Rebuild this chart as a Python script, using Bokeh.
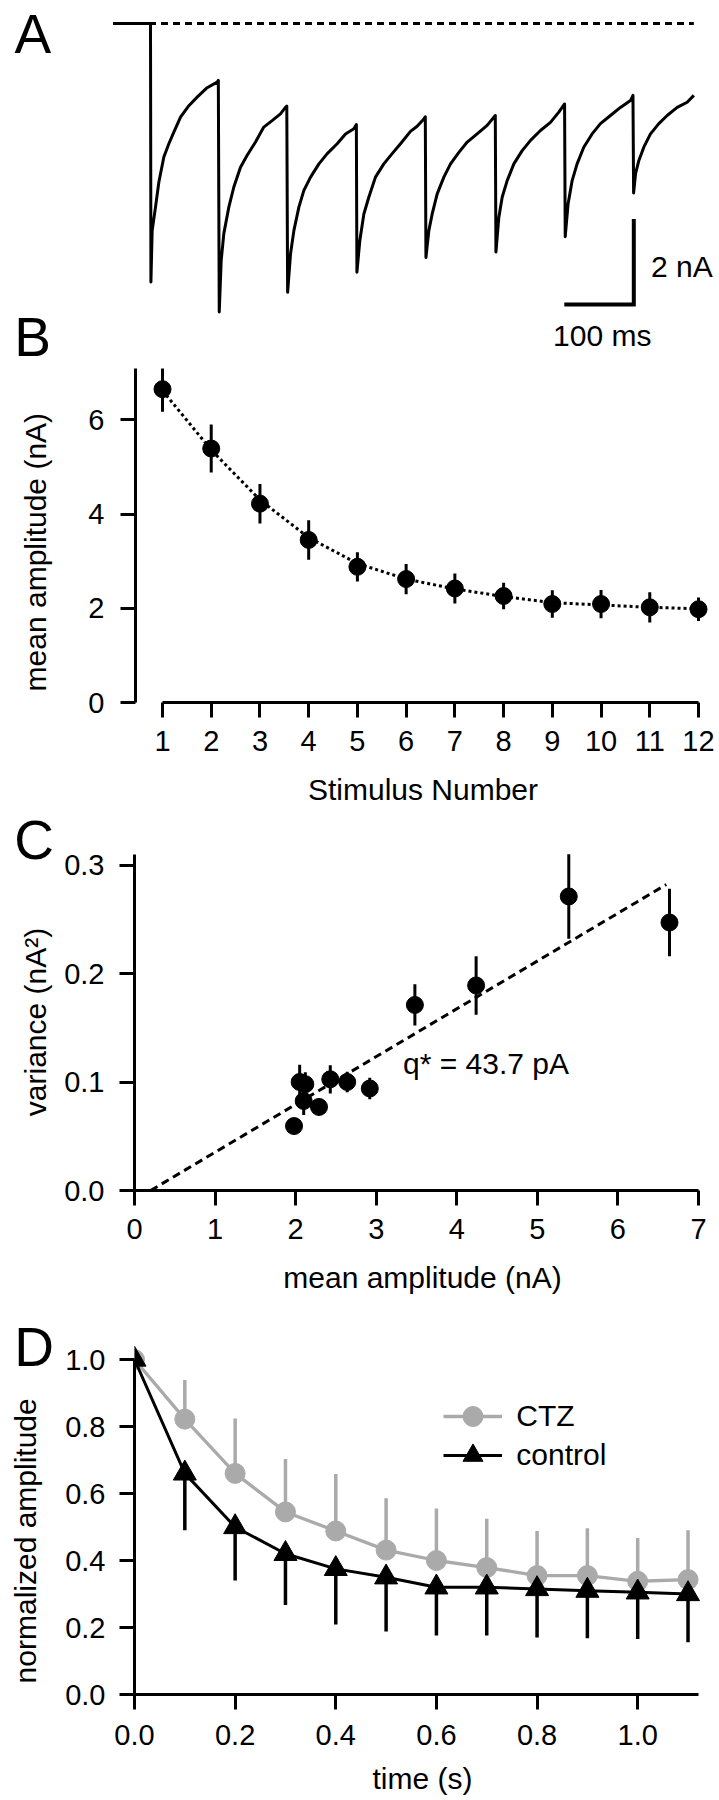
from bokeh.plotting import figure
from bokeh.layouts import column
from bokeh.models import FixedTicker, Label, Legend, LegendItem, PrintfTickFormatter, Title
from bokeh.core.properties import value
from bokeh.embed import file_html
from bokeh.resources import INLINE

FONT = "Liberation Sans"
GRAY = "#aaaaaa"
TICK_FS = "29px"
LABEL_PX = 30
LETTER_PX = 55
MID = 0.3465  # distance (in em) from the font-box middle down to the alphabetic baseline
NBSP = "\u00a0"

# ---------------- Panel A: example trace (ms, nA) ----------------
stim_times_ms = [0.0, 98.3, 196.7, 296.4, 395.7, 496.4, 596.1, 694.5]
peak_current_na = [-6.04, -6.74, -6.28, -5.81, -5.47, -5.34, -4.98, -3.96]
recovery_dt_ms = [
    [2.4, 7.2, 12.0, 19.2, 26.4, 33.6, 43.2, 55.2, 67.1, 81.5, 95.9, 97.6],
    [3.4, 7.2, 14.4, 21.6, 31.2, 40.8, 52.8, 64.7, 76.7, 88.7, 95.9, 97.8],
    [4.8, 9.6, 16.8, 24.0, 33.6, 45.6, 57.6, 71.9, 83.9, 95.9, 99.5],
    [4.8, 10.6, 17.7, 27.3, 39.3, 51.3, 63.3, 77.7, 87.3, 96.9, 99.0],
    [4.8, 9.6, 16.8, 26.4, 36.0, 48.0, 60.0, 74.3, 88.7, 100.4],
    [4.8, 9.6, 16.8, 26.4, 38.4, 50.4, 64.7, 79.1, 91.1, 99.4],
    [4.8, 10.6, 17.7, 27.3, 39.3, 51.3, 65.7, 80.1, 94.5, 98.1],
    [3.4, 8.2, 15.3, 24.9, 36.9, 48.9, 63.3, 77.7, 87.3],
]
recovery_current_na = [
    [-4.84, -4.29, -3.71, -3.12, -2.81, -2.54, -2.19, -1.92, -1.72, -1.50, -1.37, -1.33],
    [-5.54, -4.91, -4.29, -3.82, -3.36, -3.08, -2.77, -2.42, -2.27, -2.11, -1.96, -1.93],
    [-5.38, -4.84, -4.29, -3.90, -3.59, -3.28, -3.04, -2.81, -2.58, -2.46, -2.36],
    [-5.07, -4.45, -4.06, -3.59, -3.28, -3.04, -2.81, -2.52, -2.40, -2.23, -2.18],
    [-4.84, -4.45, -3.98, -3.59, -3.28, -3.01, -2.77, -2.58, -2.38, -2.15],
    [-4.53, -4.06, -3.67, -3.28, -2.97, -2.73, -2.50, -2.31, -2.07, -1.88],
    [-4.21, -3.67, -3.28, -2.89, -2.58, -2.34, -2.15, -1.96, -1.80, -1.68],
    [-3.51, -3.20, -2.89, -2.58, -2.34, -2.15, -1.96, -1.84, -1.68],
]
trace_start_ms = -54.0
trace_end_ms = 781.8
scale_bar_ms = 100
scale_bar_na = 2

# ---------------- Panel B ----------------
stim_number = [1, 2, 3, 4, 5, 6, 7, 8, 9, 10, 11, 12]
mean_amp_na = [6.65, 5.39, 4.22, 3.45, 2.88, 2.62, 2.42, 2.26, 2.09, 2.09, 2.02, 1.98]
mean_amp_sem = [0.48, 0.51, 0.42, 0.42, 0.31, 0.32, 0.32, 0.28, 0.29, 0.30, 0.32, 0.25]
fit_amp_na = [6.62, 5.36, 4.30, 3.50, 2.95, 2.62, 2.41, 2.25, 2.12, 2.07, 2.02, 1.99]
b_yticks = [0, 2, 4, 6]

# ---------------- Panel C ----------------
c_mean_na = [6.64, 5.39, 4.24, 3.48, 2.92, 2.64, 2.43, 2.29, 2.10, 2.12, 2.05, 1.98]
c_variance = [0.247, 0.271, 0.189, 0.171, 0.094, 0.100, 0.1025, 0.077, 0.0825, 0.098, 0.100, 0.0594]
c_variance_err = [0.031, 0.039, 0.027, 0.019, 0.010, 0.0095, 0.013, 0.007, 0.013, 0.011, 0.016, 0.004]
c_fit_x = [0.2, 6.6]
c_fit_y = [0.0, 0.282]
c_xticks = [0, 1, 2, 3, 4, 5, 6, 7]
c_yticks = [0.0, 0.1, 0.2, 0.3]

# ---------------- Panel D ----------------
d_time_s = [0.0, 0.1, 0.2, 0.3, 0.4, 0.5, 0.6, 0.7, 0.8, 0.9, 1.0, 1.1]
ctz_mean = [1.0, 0.822, 0.660, 0.545, 0.488, 0.431, 0.400, 0.379, 0.355, 0.355, 0.338, 0.343]
ctz_sem = [0.0, 0.117, 0.164, 0.158, 0.170, 0.155, 0.155, 0.146, 0.133, 0.141, 0.129, 0.147]
control_mean = [1.0, 0.66, 0.50, 0.42, 0.375, 0.35, 0.32, 0.32, 0.315, 0.31, 0.305, 0.30]
control_sem = [0.0, 0.17, 0.16, 0.153, 0.166, 0.162, 0.144, 0.144, 0.145, 0.142, 0.139, 0.144]
d_xticks = [0.0, 0.2, 0.4, 0.6, 0.8, 1.0]
d_yticks = [0.0, 0.2, 0.4, 0.6, 0.8, 1.0]

W = 719


def base_fig(h, xr, yr, left, right, top, bottom, axes=True):
    kw = dict(width=W, height=h, x_range=xr, y_range=yr, output_backend="svg",
              toolbar_location=None, tools="", min_border_left=left,
              min_border_right=right, min_border_top=top, min_border_bottom=bottom,
              frame_align=False)
    if not axes:
        kw.update(x_axis_type=None, y_axis_type=None)
    p = figure(**kw)
    p.outline_line_color = None
    p.grid.visible = False
    p.background_fill_color = "white"
    p.border_fill_color = "white"
    return p


def style_axis(ax, ticks, label, label_standoff, tick_standoff, fmt=None, bounds=None):
    ax.ticker = FixedTicker(ticks=ticks)
    ax.axis_label = label
    ax.axis_line_width = 3
    ax.major_tick_line_width = 3
    ax.major_tick_out = 15
    ax.major_tick_in = 0
    ax.minor_tick_out = 0
    ax.minor_tick_in = 0
    ax.major_label_text_font = FONT
    ax.major_label_text_font_size = TICK_FS
    ax.major_label_text_color = "black"
    ax.major_label_standoff = tick_standoff
    ax.axis_label_text_font = FONT
    ax.axis_label_text_font_size = "%dpx" % LABEL_PX
    ax.axis_label_text_font_style = "normal"
    ax.axis_label_text_color = "black"
    ax.axis_label_standoff = label_standoff
    if fmt:
        ax.formatter = PrintfTickFormatter(format=fmt)
    if bounds:
        ax.bounds = bounds


def text_label(p, to_data, px, baseline_py, text, size_px=LABEL_PX, align="left"):
    """Place a text whose alphabetic baseline sits at page row baseline_py."""
    x, y = to_data(px, baseline_py - MID * size_px)
    p.add_layout(Label(x=x, y=y, text=text, text_font=FONT, text_font_size="%dpx" % size_px,
                       text_align=align, text_baseline="middle", text_color="black"))


def panel_letter(p, text, frame_left_px, standoff):
    """Panel letter drawn in the plot's top border, to the left of the frame."""
    p.add_layout(Title(text=text, align="left", vertical_align="bottom", offset=13.7 - frame_left_px,
                       standoff=standoff, text_font=FONT, text_font_size="%dpx" % LETTER_PX,
                       text_font_style="normal", text_color="black"), "above")


# ---------------- Figure A (page rows 0..368) ----------------
A_PX_MS, A_PX_NA = 0.695, 42.8
A_T0_PX, A_I0_PX = 150.0, 23.0
a_height = 368


def a_xy(px, py):
    return (px - A_T0_PX) / A_PX_MS, (A_I0_PX - py) / A_PX_NA


ax0, ay1 = a_xy(0, 0)
ax1, ay0 = a_xy(W, a_height)
pa = base_fig(a_height, (ax0, ax1), (ay0, ay1), 0, 0, 0, 0, axes=False)

trace_t = [trace_start_ms, stim_times_ms[0]]
trace_i = [0.0, 0.0]
for s, pk, dts, cur in zip(stim_times_ms, peak_current_na, recovery_dt_ms, recovery_current_na):
    trace_t.append(s + 0.6)
    trace_i.append(pk)
    trace_t += [s + d for d in dts]
    trace_i += cur

pa.line([trace_start_ms, trace_end_ms], [0, 0], line_color="black", line_width=3, line_dash="7 5")
pa.line(trace_t, trace_i, line_color="black", line_width=3, line_join="round")

corner_t, corner_i = a_xy(633.3, 304.0)
pa.line([corner_t - scale_bar_ms, corner_t, corner_t],
        [corner_i, corner_i, corner_i + scale_bar_na],
        line_color="black", line_width=4, line_join="miter")
text_label(pa, a_xy, 650.5, 276.7, "2 nA")
text_label(pa, a_xy, 601.7, 345.0, "100 ms", align="center")
text_label(pa, a_xy, 14, 53, "A", size_px=LETTER_PX)
text_label(pa, a_xy, 13.7, 356, "B", size_px=LETTER_PX)

# ---------------- Figure B (page rows 368..808) ----------------
b_top_page, b_frame_top, b_frame_bottom, b_bottom_page = 368, 368, 702, 808
b_left_px, b_right_px = 135, 710
b_sx = (698 - 162) / 11.0
b_x0 = 1 - (162 - b_left_px) / b_sx
b_x1 = b_x0 + (b_right_px - b_left_px) / b_sx
b_sy = (701 - 418.3) / 6.0
b_y1 = (b_frame_bottom - b_frame_top) / b_sy
pb = base_fig(b_bottom_page - b_top_page, (b_x0, b_x1), (0, b_y1),
              b_left_px, W - b_right_px, b_frame_top - b_top_page, b_bottom_page - b_frame_bottom)

pb.line(stim_number, fit_amp_na, line_color="black", line_width=3, line_dash="3 3")
pb.segment(stim_number, [m - e for m, e in zip(mean_amp_na, mean_amp_sem)],
           stim_number, [m + e for m, e in zip(mean_amp_na, mean_amp_sem)],
           line_color="black", line_width=3)
pb.scatter(stim_number, mean_amp_na, size=17, color="black")
style_axis(pb.xaxis[0], stim_number, "Stimulus Number", 19, 13, bounds=(1, 12))
# trailing no-break spaces move the (bottom-to-top) label a little toward the axis origin
style_axis(pb.yaxis[0], b_yticks, "mean amplitude (nA)" + NBSP * 4, 33, 16)

# ---------------- Figure C (page rows 808..1300) ----------------
c_top_page, c_frame_top, c_frame_bottom, c_bottom_page = 808, 853, 1190, 1300
c_left_px, c_right_px = 134, 710
c_sx = (698 - 134) / 7.0
c_sy = 1085.0
c_x1 = (c_right_px - c_left_px) / c_sx
c_y1 = (c_frame_bottom - c_frame_top) / c_sy
pc = base_fig(c_bottom_page - c_top_page, (0, c_x1), (0, c_y1),
              c_left_px, W - c_right_px, c_frame_top - c_top_page, c_bottom_page - c_frame_bottom)


def c_xy(px, py):
    return (px - c_left_px) / c_sx, (c_frame_bottom - py) / c_sy


pc.line(c_fit_x, c_fit_y, line_color="black", line_width=3, line_dash="8 5")
pc.segment(c_mean_na, [v - e for v, e in zip(c_variance, c_variance_err)],
           c_mean_na, [v + e for v, e in zip(c_variance, c_variance_err)],
           line_color="black", line_width=3)
pc.scatter(c_mean_na, c_variance, size=17, color="black")
style_axis(pc.xaxis[0], c_xticks, "mean amplitude (nA)", 19, 13, bounds=(0, 7))
style_axis(pc.yaxis[0], c_yticks, "variance (nA\u00b2)", 9, 15, fmt="%.1f", bounds=(0, 0.31))
text_label(pc, c_xy, 402.5, 1073.6, "q* = 43.7 pA")
panel_letter(pc, "C", c_left_px, -34)

# ---------------- Figure D (page rows 1300..1800) ----------------
d_top_page, d_frame_top, d_frame_bottom, d_bottom_page = 1300, 1345, 1694, 1800
d_left_px, d_right_px = 134, 710
d_sx = 503.2
d_sy = 335.0
d_x1 = (d_right_px - d_left_px) / d_sx
d_y1 = (d_frame_bottom - d_frame_top) / d_sy
pdd = base_fig(d_bottom_page - d_top_page, (0, d_x1), (0, d_y1),
               d_left_px, W - d_right_px, d_frame_top - d_top_page, d_bottom_page - d_frame_bottom)

pdd.segment(d_time_s, ctz_mean, d_time_s, [m + e for m, e in zip(ctz_mean, ctz_sem)],
            line_color=GRAY, line_width=3.5)
ctz_line = pdd.line(d_time_s, ctz_mean, line_color=GRAY, line_width=3.3)
ctz_pts = pdd.scatter(d_time_s, ctz_mean, size=20, color=GRAY)
pdd.segment(d_time_s, control_mean, d_time_s, [m - e for m, e in zip(control_mean, control_sem)],
            line_color="black", line_width=3.5)
ctl_line = pdd.line(d_time_s, control_mean, line_color="black", line_width=3)
ctl_pts = pdd.scatter(d_time_s, control_mean, marker="triangle", size=23, color="black")
style_axis(pdd.xaxis[0], d_xticks, "time (s)", 14, 15, fmt="%.1f", bounds=(0, 1.12))
style_axis(pdd.yaxis[0], d_yticks, "normalized amplitude" + NBSP * 5, 20, 14, fmt="%.1f",
           bounds=(0, 1.0))


def legend_at(label, renderers, center_py):
    return Legend(items=[LegendItem(label=value(label), renderers=renderers)],
                  location=(443.3 - d_left_px, d_frame_bottom - (center_py + 25)),
                  orientation="vertical", glyph_width=59, glyph_height=50,
                  label_height=50, label_standoff=14, spacing=0, padding=0, margin=0,
                  border_line_color=None, background_fill_alpha=0,
                  label_text_font=FONT, label_text_font_size="%dpx" % LABEL_PX,
                  label_text_color="black")


pdd.add_layout(legend_at("CTZ", [ctz_line, ctz_pts], 1416.0))
pdd.add_layout(legend_at("control", [ctl_line, ctl_pts], 1454.7))
panel_letter(pdd, "D", d_left_px, -64)

layout = column(pa, pb, pc, pdd, spacing=0)
open("out.html", "w").write(file_html(layout, INLINE))
